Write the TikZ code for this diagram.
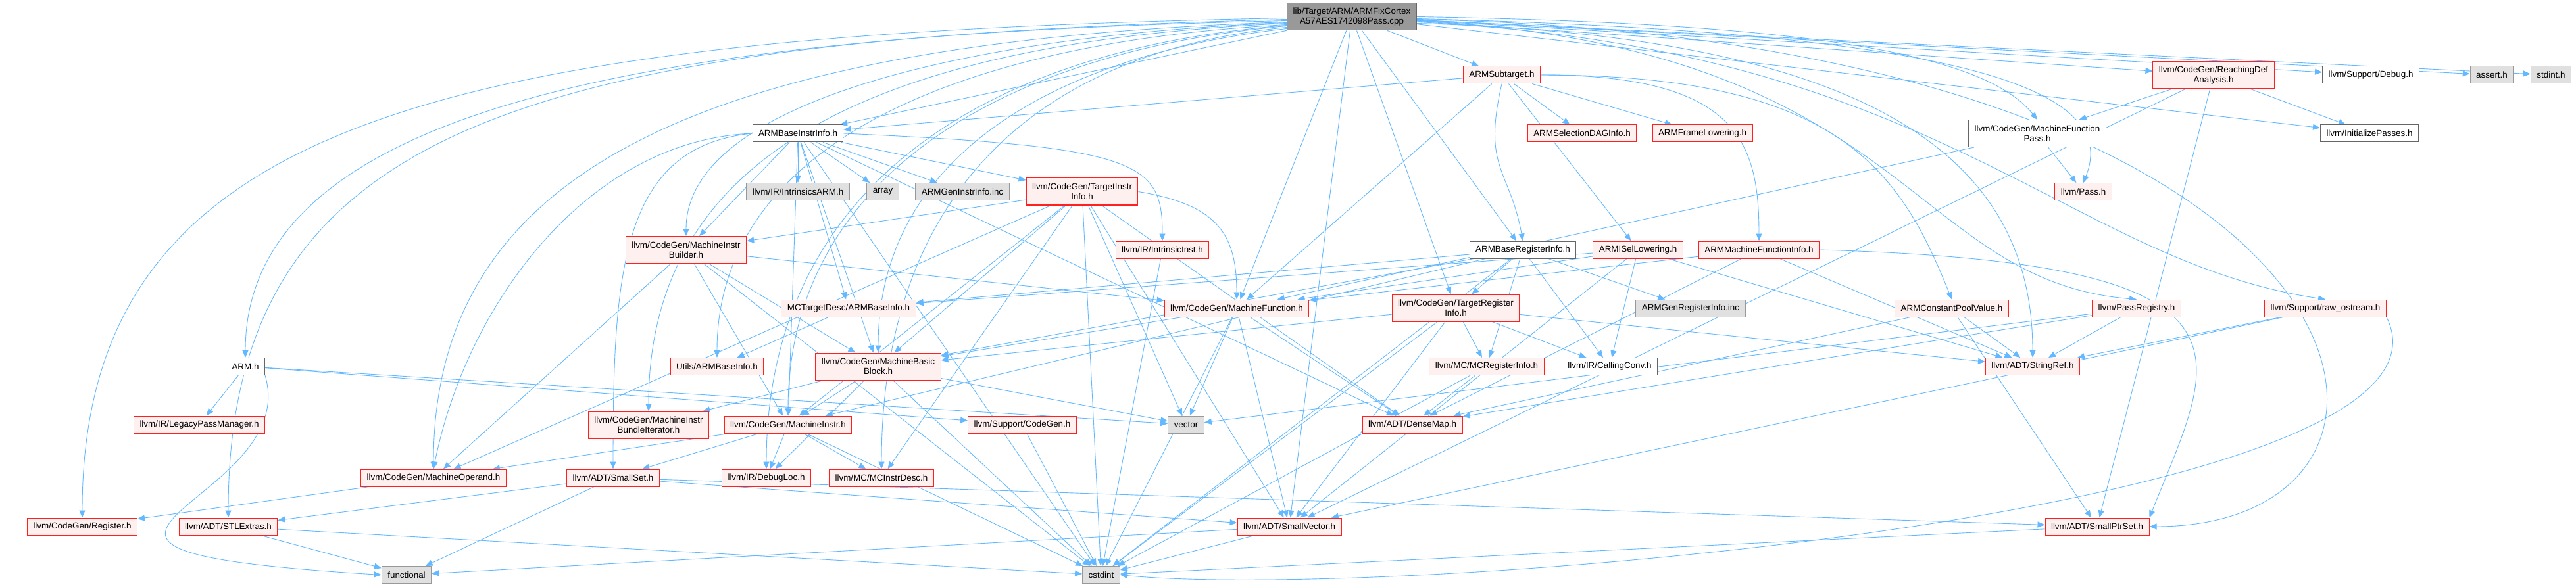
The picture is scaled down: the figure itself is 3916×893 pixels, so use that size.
\documentclass[tikz,border=0pt]{standalone}
\usepackage{fontspec}
\setmainfont{Liberation Sans}
\usetikzlibrary{arrows.meta,backgrounds}
\definecolor{edgeblue}{HTML}{63B8FF}
\definecolor{hdrred}{HTML}{FF2020}
\definecolor{hdrfill}{HTML}{FFF0F0}
\definecolor{sysfill}{HTML}{E0E0E0}
\definecolor{sysline}{HTML}{999999}
\definecolor{plainline}{HTML}{666666}

\begin{document}
\begin{tikzpicture}[
    x=1pt, y=-1pt,
    box/.style={rectangle, draw, line width=1pt, inner xsep=9pt, inner ysep=3pt, minimum height=26pt, align=center, font=\fontsize{13.4}{15}\selectfont},
    hdrbox/.style={box, draw=hdrred, fill=hdrfill},
    plainbox/.style={box, draw=plainline, fill=white},
    sysbox/.style={box, draw=sysline, fill=sysfill},
    rootbox/.style={box, draw=plainline, fill=sysline},
    tall/.style={minimum height=41pt},
    dep/.style={-{Triangle[length=11pt,width=9pt]}, draw=edgeblue, line width=0.9pt}
  ]
  \useasboundingbox (0,0) rectangle (3916,893);

  % Nodes
  \node (root) [rootbox, tall] at (2055,25.5) {lib/Target/ARM/ARMFixCortex\\A57AES1742098Pass.cpp};

  \node (subtgt) [hdrbox] at (2283,114) {ARMSubtarget.h};
  \node (reaching) [hdrbox, tall] at (3365,114.5) {llvm/CodeGen/ReachingDef\\Analysis.h};
  \node (debug) [plainbox] at (3604,114) {llvm/Support/Debug.h};
  \node (assert) [sysbox] at (3788,114) {assert.h};
  \node (stdint) [sysbox] at (3878,114) {stdint.h};

  \node (baseinstr) [plainbox] at (1213,203) {ARMBaseInstrInfo.h};
  \node (dag) [hdrbox] at (2405,203) {ARMSelectionDAGInfo.h};
  \node (frame) [hdrbox] at (2588,203) {ARMFrameLowering.h};
  \node (mfpass) [plainbox, tall] at (3097,203) {llvm/CodeGen/MachineFunction\\Pass.h};
  \node (initpasses) [plainbox] at (3602,203) {llvm/InitializePasses.h};

  \node (intrarm) [sysbox] at (1213,291.5) {llvm/IR/IntrinsicsARM.h};
  \node (array) [sysbox] at (1342,291.5) {array};
  \node (geninstr) [sysbox] at (1463,291.5) {ARMGenInstrInfo.inc};
  \node (tii) [hdrbox, tall] at (1645,291.5) {llvm/CodeGen/TargetInstr\\Info.h};
  \node (pass) [hdrbox] at (3167,291.5) {llvm/Pass.h};

  \node (mib) [hdrbox, tall] at (1043,380) {llvm/CodeGen/MachineInstr\\Builder.h};
  \node (intrinst) [hdrbox] at (1767,380) {llvm/IR/IntrinsicInst.h};
  \node (basereg) [plainbox] at (2315,380) {ARMBaseRegisterInfo.h};
  \node (isel) [hdrbox] at (2490,380) {ARMISelLowering.h};
  \node (mfi) [hdrbox] at (2674,380) {ARMMachineFunctionInfo.h};

  \node (mcarm) [hdrbox] at (1290,469) {MCTargetDesc/ARMBaseInfo.h};
  \node (mf) [hdrbox] at (1880,469) {llvm/CodeGen/MachineFunction.h};
  \node (tri) [hdrbox, tall] at (2213,468.5) {llvm/CodeGen/TargetRegister\\Info.h};
  \node (genreg) [sysbox] at (2570,469) {ARMGenRegisterInfo.inc};
  \node (cpv) [hdrbox] at (2967,469) {ARMConstantPoolValue.h};
  \node (passreg) [hdrbox] at (3248,469) {llvm/PassRegistry.h};
  \node (rawos) [hdrbox] at (3535,469) {llvm/Support/raw\_ostream.h};

  \node (arm) [plainbox] at (373,557.5) {ARM.h};
  \node (utils) [hdrbox] at (1090,557.5) {Utils/ARMBaseInfo.h};
  \node (mbb) [hdrbox, tall] at (1335,557.5) {llvm/CodeGen/MachineBasic\\Block.h};
  \node (mcreg) [hdrbox] at (2260,557.5) {llvm/MC/MCRegisterInfo.h};
  \node (callconv) [plainbox] at (2447,557.5) {llvm/IR/CallingConv.h};
  \node (strref) [hdrbox] at (3090,557.5) {llvm/ADT/StringRef.h};

  \node (legacy) [hdrbox] at (303,646) {llvm/IR/LegacyPassManager.h};
  \node (mibundle) [hdrbox, tall] at (986,646.5) {llvm/CodeGen/MachineInstr\\BundleIterator.h};
  \node (mi) [hdrbox] at (1198,646) {llvm/CodeGen/MachineInstr.h};
  \node (cgsupport) [hdrbox] at (1554,646) {llvm/Support/CodeGen.h};
  \node (vector) [sysbox] at (1803,646) {vector};
  \node (densemap) [hdrbox] at (2147,646) {llvm/ADT/DenseMap.h};

  \node (mo) [hdrbox] at (659,727) {llvm/CodeGen/MachineOperand.h};
  \node (smallset) [hdrbox] at (932,727) {llvm/ADT/SmallSet.h};
  \node (debugloc) [hdrbox] at (1165,727) {llvm/IR/DebugLoc.h};
  \node (mcdesc) [hdrbox] at (1340,727) {llvm/MC/MCInstrDesc.h};

  \node (register) [hdrbox] at (125,801) {llvm/CodeGen/Register.h};
  \node (stlext) [hdrbox] at (347,801) {llvm/ADT/STLExtras.h};
  \node (smallvec) [hdrbox] at (1960,801) {llvm/ADT/SmallVector.h};
  \node (smallptr) [hdrbox] at (3188,801) {llvm/ADT/SmallPtrSet.h};

  \node (functional) [sysbox] at (618,874.5) {functional};
  \node (cstdint) [sysbox] at (1674,874.5) {cstdint};

  % Arrows
  \begin{scope}[on background layer]
  % from the source file
  \draw [dep] (root) -- (subtgt);
  \draw [dep] (root) -- (baseinstr);
  \draw [dep] ([yshift=-6pt]root.west) .. controls +(-900,20) and +(0,-400) .. (arm.north);
  \draw [dep] ([yshift=-2pt]root.west) .. controls +(-1300,25) and +(0,-600) .. (register.north);
  \draw [dep] ([yshift=-4pt]root.west) .. controls +(-1150,30) and +(0,-600) .. (stlext.north);
  \draw [dep] ([yshift=-8pt]root.west) .. controls +(-900,30) and +(0,-450) .. (mo.north);
  \draw [dep] ([yshift=-10pt]root.west) .. controls +(-650,30) and +(0,-380) .. (mibundle.north);
  \draw [dep] ([yshift=-12pt]root.west) .. controls +(-550,30) and +(0,-300) .. (utils.north);
  \draw [dep] ([yshift=-9pt]root.west) .. controls +(-500,20) and +(0,-200) .. (mib.north);
  \draw [dep] ([yshift=-14pt]root.west) .. controls +(-450,40) and +(0,-350) .. (mi.north);
  \draw [dep] ([yshift=-13pt]root.west) .. controls +(-500,40) and +(0,-400) .. (debugloc.north);
  \draw [dep] ([yshift=-16pt]root.west) .. controls +(-400,40) and +(0,-400) .. (mcdesc.north);
  \draw [dep] ([yshift=-18pt]root.west) .. controls +(-350,40) and +(0,-300) .. (mbb.north);
  \draw [dep] (root) -- (mf);
  \draw [dep] (root) -- (smallvec);
  \draw [dep] (root) -- (tri);
  \draw [dep] (root) -- (basereg);
  \draw [dep] (root.east) .. controls +(600,10) and +(-80,-100) .. (mfpass.north);
  \draw [dep] (root) -- (reaching);
  \draw [dep] (root) -- (debug);
  \draw [dep] (root) -- (assert);
  \draw [dep] (root) -- (stdint);
  \draw [dep] (root) -- (initpasses);
  \draw [dep] ([yshift=-3pt]root.east) .. controls +(800,20) and +(60,-150) .. (pass.north);
  \draw [dep] ([yshift=-6pt]root.east) .. controls +(750,40) and +(-350,-30) .. (passreg.north);
  \draw [dep] ([yshift=-8pt]root.east) .. controls +(800,40) and +(-400,-60) .. (rawos.north);
  \draw [dep] ([yshift=-10pt]root.east) .. controls +(700,20) and +(0,-300) .. (strref.north);
  \draw [dep] ([yshift=-4pt]root.east) .. controls +(1500,30) and +(500,0) .. (smallptr.east);

  % ARM.h
  \draw [dep] (arm) -- (legacy);
  \draw [dep] (arm) -- (cgsupport);
  \draw [dep] (arm) -- (vector);
  \draw [dep] (arm.south east) .. controls +(60,200) and +(-650,-40) .. (functional.west);

  % ARMSubtarget.h
  \draw [dep] (subtgt) -- (baseinstr);
  \draw [dep] (subtgt) -- (dag);
  \draw [dep] (subtgt) -- (frame);
  \draw [dep] (subtgt.south) .. controls +(-30,130) and +(-20,-110) .. (basereg.north);
  \draw [dep] (subtgt) -- (isel);
  \draw [dep] (subtgt.east) .. controls +(300,0) and +(0,-150) .. (mfi.north);
  \draw [dep] (subtgt.east) .. controls +(450,0) and +(-80,-200) .. (cpv.north);
  \draw [dep] (subtgt) -- (mf);

  % ARMBaseInstrInfo.h
  \draw [dep] (baseinstr) -- (intrarm);
  \draw [dep] (baseinstr) -- (array);
  \draw [dep] (baseinstr) -- (geninstr);
  \draw [dep] (baseinstr) -- (tii);
  \draw [dep] (baseinstr.east) .. controls +(450,20) and +(0,-120) .. (intrinst.north);
  \draw [dep] (baseinstr) -- (mib);
  \draw [dep] (baseinstr) -- (mcarm);
  \draw [dep] (baseinstr) -- (mbb);
  \draw [dep] (baseinstr) -- (mi);
  \draw [dep] (baseinstr.west) .. controls +(-250,10) and +(50,-250) .. (mo.north);
  \draw [dep] (baseinstr.west) .. controls +(-200,20) and +(0,-300) .. (smallset.north);
  \draw [dep] (baseinstr) -- (densemap);
  \draw [dep] (baseinstr) -- (cstdint);

  % TargetInstrInfo.h
  \draw [dep] (tii) -- (mib);
  \draw [dep] (tii) -- (mbb);
  \draw [dep] (tii) -- (mi);
  \draw [dep] (tii) -- (mo);
  \draw [dep] (tii.east) .. controls +(120,20) and +(0,-100) .. (mf.north);
  \draw [dep] (tii) -- (densemap);
  \draw [dep] (tii) -- (cstdint);
  \draw [dep] (tii) -- (vector);
  \draw [dep] (tii) -- (smallvec);
  \draw [dep] (tii) -- (mcdesc);
  \draw [dep] (intrinst) -- (cstdint);

  % MachineInstrBuilder.h
  \draw [dep] (mib) -- (mbb);
  \draw [dep] (mib) -- (mf);
  \draw [dep] (mib) -- (mi);
  \draw [dep] (mib) -- (mo);
  \draw [dep] (mib) -- (cstdint);

  % ARMBaseRegisterInfo.h
  \draw [dep] (basereg) -- (mcarm);
  \draw [dep] (basereg) -- (mbb);
  \draw [dep] (basereg) -- (mi);
  \draw [dep] (basereg) -- (tri);
  \draw [dep] (basereg) -- (mcreg);
  \draw [dep] (basereg) -- (callconv);
  \draw [dep] (basereg) -- (genreg);
  \draw [dep] (basereg) -- (cstdint);

  % ARMISelLowering.h
  \draw [dep] (isel) -- (mcarm);
  \draw [dep] (isel) -- (mf);
  \draw [dep] (isel) -- (callconv);
  \draw [dep] (isel) -- (smallvec);
  \draw [dep] (isel) -- (strref);

  % ARMMachineFunctionInfo.h
  \draw [dep] (mfi) -- (mf);
  \draw [dep] (mfi) -- (densemap);
  \draw [dep] (mfi.east) .. controls +(700,20) and +(100,-250) .. (smallptr.north east);
  \draw [dep] (mfi) -- (strref);

  \draw [dep] (mcarm) -- (utils);

  % MachineBasicBlock.h
  \draw [dep] (mbb) -- (mibundle);
  \draw [dep] (mbb) -- (mi);
  \draw [dep] (mbb) -- (debugloc);
  \draw [dep] (mbb) -- (vector);
  \draw [dep] (mbb) -- (cstdint);

  % MachineFunction.h
  \draw [dep] (mf) -- (mbb);
  \draw [dep] (mf) -- (vector);
  \draw [dep] (mf) -- (densemap);
  \draw [dep] (mf) -- (smallvec);
  \draw [dep] (mf) -- (cstdint);

  % MachineInstr.h
  \draw [dep] (mi) -- (mo);
  \draw [dep] (mi) -- (smallset);
  \draw [dep] (mi) -- (debugloc);
  \draw [dep] (mi) -- (mcdesc);
  \draw [dep] (mi) -- (cstdint);

  \draw [dep] (mo) -- (register);
  \draw [dep] (smallset) -- (stlext);
  \draw [dep] (smallset) -- (functional);
  \draw [dep] (smallset) -- (smallvec);
  \draw [dep] (smallset) -- (smallptr);
  \draw [dep] (cgsupport) -- (cstdint);
  \draw [dep] (stlext) -- (functional);
  \draw [dep] (stlext) -- (cstdint);
  \draw [dep] (smallvec) -- (functional);
  \draw [dep] (smallvec) -- (cstdint);

  % TargetRegisterInfo.h
  \draw [dep] (tri) -- (mbb);
  \draw [dep] (tri) -- (smallvec);
  \draw [dep] (tri) -- (mcreg);
  \draw [dep] (tri) -- (callconv);
  \draw [dep] (tri) -- (strref);
  \draw [dep] (tri) -- (cstdint);
  \draw [dep] (mcreg) -- (densemap);
  \draw [dep] (mcreg) -- (cstdint);

  % right hand side
  \draw [dep] (cpv) -- (strref);
  \draw [dep] (cpv) -- (smallptr);
  \draw [dep] (cpv) -- (densemap);
  \draw [dep] (passreg) -- (strref);
  \draw [dep] (passreg) -- (densemap);
  \draw [dep] (passreg) -- (vector);
  \draw [dep] (rawos) -- (strref);
  \draw [dep] (rawos) -- (smallvec);
  \draw [dep] (rawos.south east) .. controls +(150,300) and +(400,40) .. (cstdint.east);
  \draw [dep] (smallptr) -- (cstdint);
  \draw [dep] (reaching) -- (mfpass);
  \draw [dep] (reaching) -- (initpasses);
  \draw [dep] (reaching) -- (smallptr);
  \draw [dep] (reaching) -- (smallvec);
  \draw [dep] (mfpass) -- (pass);
  \draw [dep] (mfpass) -- (mf);
  \end{scope}

\end{tikzpicture}
\end{document}
